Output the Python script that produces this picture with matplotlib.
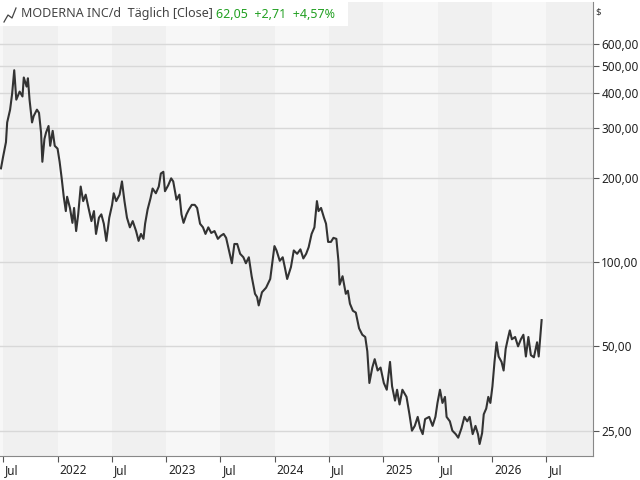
import numpy as np
import matplotlib
matplotlib.use("Agg")
import matplotlib.pyplot as plt
from matplotlib.ticker import FixedLocator, NullLocator
import matplotlib.transforms as mtrans

plt.rcParams['font.family'] = ['Noto Sans', 'DejaVu Sans']

base_year = 2021.468
offsets = [.011,.030,.057,.068,.095,.114,.133,.152,.183,.209,.221,.247,.259,.274,.297,.312,.342,.361,.380,.392,.411,.426,.449,.464,.487,.506,.532,.551,.570,.589,.608,.620,.646,.669,.684,.703,.722,.745,.768,.791,.817,.844,.867,.886,.913,.935,.958,.981,1.008,1.034,1.049,1.072,1.103,1.125,1.148,1.171,1.198,1.224,1.255,1.278,1.300,1.323,1.338,1.361,1.388,1.407,1.437,1.464,1.483,1.506,1.521,1.551,1.578,1.597,1.627,1.654,1.673,1.692,1.719,1.741,1.768,1.795,1.817,1.844,1.871,1.894,1.920,1.947,1.977,2.008,2.034,2.061,2.084,2.110,2.137,2.160,2.186,2.213,2.243,2.266,2.293,2.319,2.350,2.369,2.384,2.414,2.452,2.490,2.510,2.529,2.548,2.578,2.605,2.624,2.646,2.681,2.707,2.738,2.768,2.795,2.821,2.844,2.871,2.897,2.920,2.935,2.958,2.985,3.004,3.023,3.049,3.072,3.099,3.118,3.129,3.156,3.186,3.205,3.224,3.251,3.278,3.308,3.338,3.365,3.384,3.403,3.430,3.452,3.479,3.506,3.536,3.563,3.593,3.612,3.639,3.658,3.681,3.707,3.745,3.772,3.795,3.821,3.848,3.871,3.894,3.916,3.954,3.985,4.011,4.030,4.053,4.076,4.099,4.114,4.144,4.167,4.198,4.221,4.251,4.278,4.304,4.327,4.354,4.380,4.403,4.418,4.441,4.456,4.479,4.498,4.517,4.536,4.555,4.574,4.593,4.620,4.639,4.658,4.677,4.696,4.715,4.745,4.772,4.798,4.821,4.844,4.867,4.890,4.918,4.947,4.962,4.989]
prices = [216,237,268,315,350,400,484,380,406,390,456,423,453,380,315,332,350,341,290,228,275,290,306,260,294,260,254,228,199,171,152,171,156,138,156,129,148,186,165,174,156,140,152,126,144,148,137,119,144,160,176,165,174,194,165,144,133,140,129,119,126,121,137,154,169,183,176,186,207,210,179,188,199,194,167,174,148,138,148,154,160,160,156,137,133,126,133,127,129,121,124,126,122,110,99,116,116,107,104,99,104,89,77,75,70,78,81,87,100,114,110,101,104,96,87,96,110,107,111,103,107,113,126,133,165,152,156,144,137,118,118,122,121,101,83,89,77,79,71,67,66,58,55,54,48,37,42,45,41,42,37,35,44,36,32,35,31,35,33,28.6,25,26,28,25.5,24.3,27.5,28,26,28,31.4,35,31.4,33,28,27,25,24.3,23.6,25.5,28,27,28,24.3,26,24.3,22.4,24.5,28.6,30,33,31.4,36,44,51.7,46,44,41,49,53,57,53,54,50,53,55,46,54,46.5,45.7,51.7,46,62.05]

ytick_vals = [25, 50, 100, 200, 300, 400, 500, 600]
ytick_labels = ["25,00", "50,00", "100,00", "200,00", "300,00", "400,00", "500,00", "600,00"]
xtick_vals = [2021.5, 2022, 2022.5, 2023, 2023.5, 2024, 2024.5, 2025, 2025.5, 2026, 2026.5]
xtick_labels = ["Jul", "2022", "Jul", "2023", "Jul", "2024", "Jul", "2025", "Jul", "2026", "Jul"]

x = base_year + np.array(offsets)

fig = plt.figure(figsize=(6.4, 4.8), dpi=100)
ax = fig.add_axes([0.0, 1 - 456/480, 593/640, 454/480])
ax.set_facecolor("#f7f7f7")
ax.set_yscale("log")
ax.set_xlim(2021.47, 2026.93)
ax.set_ylim(20.3, 848)

for s in np.arange(2021.0, 2027.0, 0.5):
    if s % 1 == 0.5:
        ax.axvspan(s, s + 0.5, color="#f0f0f0", lw=0, zorder=0)

for v in ytick_vals:
    ax.axhline(v, color="#d8d8d8", lw=1, zorder=1)

ax.plot(x, prices, color="#333333", lw=1.5, zorder=3)

ax.yaxis.tick_right()
ax.yaxis.set_major_locator(FixedLocator(ytick_vals))
ax.yaxis.set_minor_locator(NullLocator())
ax.set_yticklabels(ytick_labels)
ax.set_xticks(xtick_vals)
ax.set_xticklabels(xtick_labels, ha="left")
ax.tick_params(axis="y", length=4, color="#555555", labelsize=8.5, labelcolor="#222222", pad=2)
ax.tick_params(axis="x", length=4, color="#555555", labelsize=8.5, labelcolor="#222222", pad=2)
off = mtrans.ScaledTranslation(1.5/72, 0, fig.dpi_scale_trans)
for lab in ax.get_xticklabels():
    lab.set_transform(lab.get_transform() + off)

for sp in ["top", "left"]:
    ax.spines[sp].set_visible(False)
ax.spines["right"].set_color("#888888")
ax.spines["bottom"].set_color("#888888")

fig.text(595/640, 1 - 12/480, "$", fontsize=7, color="#333333", va="center")

ax.add_patch(plt.Rectangle((0, 1 - 24/454), 348/593, 24/454, transform=ax.transAxes,
                           facecolor="white", edgecolor="none", zorder=4))
ax.plot([4/593, 8/593, 12/593, 16/593], [1 - 20/454, 1 - 13/454, 1 - 16/454, 1 - 6/454],
        transform=ax.transAxes, color="#444444", lw=0.9, zorder=5)
ax.text(21/593, 1 - 12/454, "MODERNA INC/d  Täglich [Close]", transform=ax.transAxes,
        fontsize=9, color="#444444", va="center", zorder=5)
ax.text(216/593, 1 - 12/454, "62,05  +2,71  +4,57%", transform=ax.transAxes,
        fontsize=9, color="#22a022", va="center", zorder=5)

fig.savefig("out.png", dpi=100)
